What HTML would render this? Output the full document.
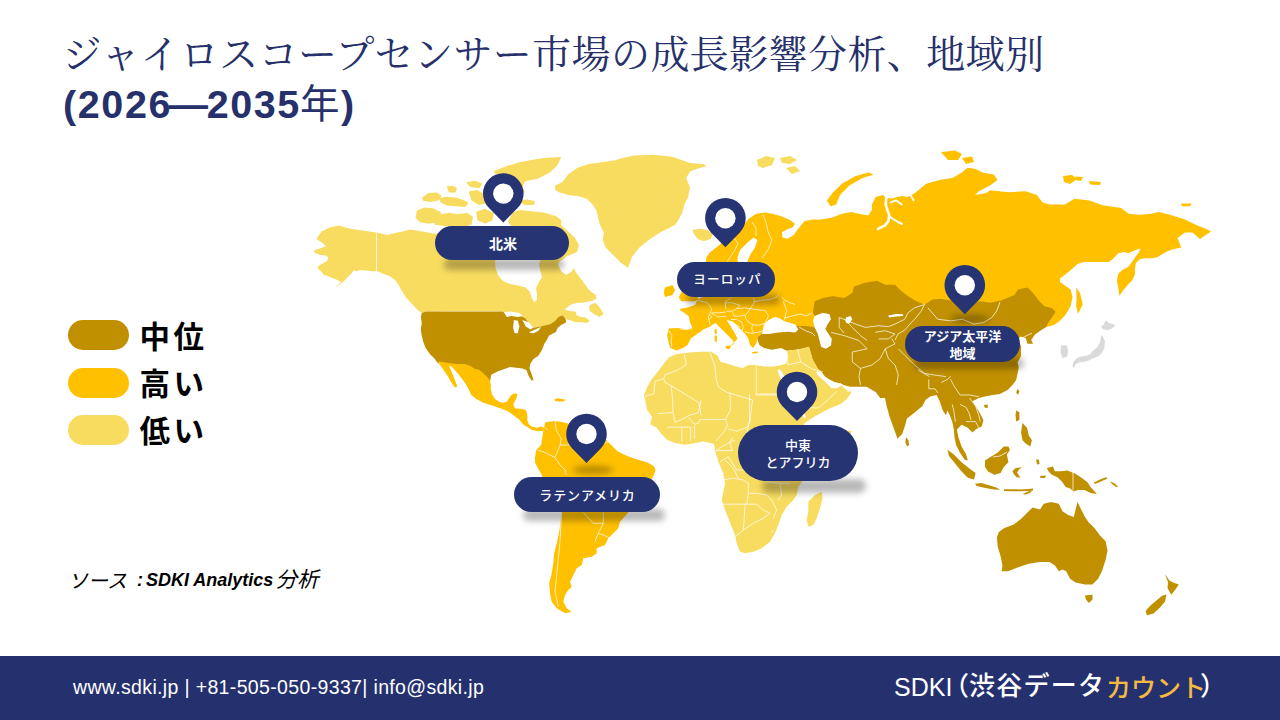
<!DOCTYPE html>
<html lang="ja">
<head>
<meta charset="utf-8">
<style>
*{margin:0;padding:0;box-sizing:border-box}
html,body{width:1280px;height:720px;overflow:hidden;background:#fff}
body{position:relative;font-family:"Liberation Sans","Noto Sans CJK JP",sans-serif}
.t1{position:absolute;left:62.5px;top:23px;font-family:"Noto Serif CJK JP","Noto Serif CJK SC",serif;font-size:39px;line-height:56px;color:#26306a;white-space:nowrap;letter-spacing:0.4px}
.t2{position:absolute;left:63px;top:78px;font-family:"Liberation Sans","Noto Sans CJK JP",sans-serif;font-weight:bold;font-size:39.5px;line-height:52px;color:#26306a;white-space:nowrap;letter-spacing:1.6px}
.t2 .n{font-weight:normal}
.lg{position:absolute;left:68px;width:61px;height:30px;border-radius:15px}
.lt{position:absolute;left:139.5px;font-family:"Noto Sans CJK JP",sans-serif;font-weight:bold;font-size:30.5px;line-height:30px;color:#000;letter-spacing:3.5px;white-space:nowrap}
.src{position:absolute;left:73px;top:567px;font-size:18px;line-height:26px;font-style:italic;color:#000;white-space:nowrap}
.src b{font-weight:bold}.src .s{position:absolute;top:0}.src .j{font-family:"Noto Sans CJK JP",sans-serif;font-size:20px;top:0px}
.ft{position:absolute;left:0;top:656px;width:1280px;height:64px;background:#25316f}
.ft1{position:absolute;left:73px;top:674px;font-family:"Liberation Sans",sans-serif;font-size:19.5px;line-height:26px;color:#fff;white-space:nowrap;letter-spacing:0.35px}
.ft2{position:absolute;left:894px;top:671px;font-family:"Liberation Sans","Noto Sans CJK JP",sans-serif;font-size:25px;line-height:32px;color:#fff;white-space:nowrap}
.ft2 .a{position:absolute;top:0}.ft2 .j{font-family:"Noto Sans CJK JP",sans-serif;font-size:26px;top:-3px;font-weight:500}.ft2 .o{color:#f4b942}
svg.map{position:absolute;left:0;top:0}
.pill{position:absolute;background:#263473;color:#fff;font-family:"Noto Sans CJK JP",sans-serif;font-weight:bold;font-size:13px;line-height:17px;display:flex;align-items:center;justify-content:center;text-align:center}
</style>
</head>
<body>
<div class="t1">ジャイロスコープセンサー市場の成長影響分析、地域別</div>
<div class="t2">(2026<span style="margin:0 -3px 0 -3.5px">—</span>2035<span class="n" style="margin-left:-1px">年</span>)</div>

<svg class="map" width="1280" height="720" viewBox="0 0 1280 720">
<defs><filter id="bl" x="-50%" y="-50%" width="200%" height="200%"><feGaussianBlur stdDeviation="3"/></filter></defs>
<g>
<path fill="#f8dc60" d="M321.9,231.2 L330.0,227.5 L338.8,225.6 L350.0,228.8 L362.5,230.6 L376.2,232.5 L387.5,235.0 L395.0,233.0 L403.8,231.2 L410.0,229.4 L416.2,230.6 L425.0,231.9 L435.0,233.8 L450.0,231.0 L470.0,229.0 L495.0,232.0 L520.0,236.0 L545.0,238.0 L560.0,240.0 L568.0,244.0 L570.0,252.0 L565.0,258.0 L560.0,261.0 L558.0,264.0 L561.0,271.0 L566.0,275.0 L571.0,272.0 L574.0,268.0 L575.8,272.2 L580.0,277.8 L584.2,283.3 L588.3,288.9 L591.1,291.7 L595.3,294.4 L596.7,298.6 L592.5,300.7 L588.3,301.4 L582.8,302.8 L577.2,302.8 L571.7,304.2 L567.5,306.9 L564.7,309.7 L570.3,311.1 L575.8,311.8 L576.5,315.3 L580.0,316.7 L585.6,317.4 L589.7,320.8 L586.9,322.9 L581.4,322.2 L575.8,322.2 L571.7,320.8 L567.5,319.4 L564.7,318.1 L565.5,318.4 L562.3,315.3 L558.4,316.9 L555.3,320.8 L550.6,323.9 L544.4,325.5 L538.1,327.0 L533.4,327.8 L530.3,324.7 L525.6,318.4 L519.4,315.3 L506.9,313.8 L502.2,311.4 L494.4,311.1 L456.9,311.1 L425.6,311.4 L421.7,313.0 L417.5,310.0 L412.0,304.0 L406.0,297.5 L401.2,290.0 L398.8,285.0 L395.0,280.0 L390.0,276.2 L385.0,274.4 L380.0,272.5 L376.2,271.2 L371.2,271.2 L366.2,270.6 L360.0,270.0 L356.2,271.2 L353.8,270.0 L351.2,273.8 L347.5,277.5 L343.8,281.2 L337.5,286.2 L329.4,290.0 L326.9,291.2 L335.0,287.5 L341.2,282.5 L337.5,280.0 L331.2,277.5 L326.2,275.6 L323.1,274.4 L321.9,271.9 L318.8,269.4 L317.5,266.9 L321.9,263.8 L326.9,261.2 L328.1,257.5 L326.2,255.6 L320.0,255.0 L315.0,253.1 L313.8,250.6 L318.8,248.8 L326.2,246.2 L321.9,242.5 L316.9,239.4 L317.5,236.9Z"/>
<path fill="#f8dc60" d="M416.9,210.4 L424.3,207.5 L433.2,208.2 L440.6,211.9 L442.0,217.8 L437.6,222.2 L428.8,223.7 L419.9,222.2 L415.5,217.8Z"/>
<path fill="#f8dc60" d="M433.1,217.1 L440.5,214.2 L449.4,212.7 L458.2,214.2 L467.1,212.7 L473.0,217.1 L471.5,224.5 L464.1,227.4 L453.8,226.7 L443.5,226.0 L434.6,224.5Z"/>
<path fill="#f8dc60" d="M422.4,197.5 L428.3,193.1 L437.1,192.4 L441.5,196.0 L438.6,200.5 L429.7,201.9 L422.4,200.5Z"/>
<path fill="#f8dc60" d="M439.1,198.2 L446.4,196.7 L455.3,197.5 L462.7,199.7 L468.6,202.6 L465.6,207.1 L455.3,206.3 L446.4,205.6 L440.6,202.6Z"/>
<path fill="#f8dc60" d="M446.7,186.5 L452.6,185.8 L457.0,188.0 L455.5,192.4 L448.9,192.4Z"/>
<path fill="#f8dc60" d="M466.2,182.2 L475.0,180.7 L482.4,183.6 L479.5,188.1 L470.6,187.3Z"/>
<path fill="#f8dc60" d="M468.6,191.6 L477.4,190.1 L484.8,194.6 L486.3,203.4 L478.9,204.9 L471.5,200.4Z"/>
<path fill="#f8dc60" d="M493.8,171.2 L506.2,166.2 L518.8,162.5 L531.2,160.0 L543.8,158.1 L560.0,156.9 L561.2,157.5 L557.5,165.0 L550.0,172.5 L537.5,178.8 L525.0,181.2 L522.5,187.5 L525.0,192.5 L520.0,191.2 L512.5,185.0 L506.2,178.8 L500.0,175.0 L495.0,173.8Z"/>
<path fill="#f8dc60" d="M520.0,200.0 L527.5,199.4 L535.0,201.2 L533.8,205.0 L525.0,205.0 L521.2,203.1Z"/>
<path fill="#f8dc60" d="M476.1,211.8 L485.0,208.8 L493.9,213.3 L492.4,220.6 L485.0,223.6 L477.6,220.6Z"/>
<path fill="#f8dc60" d="M512.5,212.5 L520.0,210.0 L531.2,211.2 L543.8,212.5 L556.2,216.2 L561.2,220.0 L561.2,225.0 L575.0,238.0 L579.0,245.0 L577.0,252.0 L568.0,256.0 L560.0,250.0 L550.0,243.0 L538.0,240.0 L525.0,236.0 L515.0,230.0 L508.0,222.0Z"/>
<path fill="#f8dc60" d="M555.0,185.6 L562.5,181.9 L568.1,174.4 L577.5,167.8 L588.8,164.1 L601.9,162.2 L615.0,160.3 L620.6,158.4 L633.8,155.6 L652.5,154.7 L671.2,156.6 L682.5,160.3 L690.0,163.1 L703.1,164.1 L706.9,165.9 L697.5,168.8 L690.0,171.6 L686.2,178.1 L690.0,187.5 L688.1,196.9 L684.4,204.4 L682.5,211.9 L678.8,219.4 L675.0,225.0 L667.5,228.8 L660.0,232.5 L648.8,240.0 L639.4,247.5 L631.9,256.9 L628.1,268.1 L620.6,262.5 L613.1,255.0 L605.6,247.5 L602.8,240.0 L603.8,232.5 L600.0,225.0 L598.1,217.5 L596.2,210.0 L592.5,204.4 L586.9,198.8 L577.5,195.9 L568.1,195.0 L558.8,192.2 L555.0,189.4Z"/>
<path fill="#f8dc60" d="M692.5,230.0 L700.0,228.8 L707.5,230.0 L712.5,233.8 L711.2,238.8 L703.8,241.2 L697.5,238.8 L693.8,233.8Z"/>
<path fill="#f8dc60" d="M591.1,304.2 L595.3,302.8 L599.4,306.9 L603.6,313.9 L599.4,316.7 L593.9,313.9 L589.7,311.1 L589.0,306.9Z"/>
<path fill="#c09000" d="M421.7,313.0 L425.6,311.4 L502.2,311.4 L506.9,313.8 L519.4,315.3 L525.6,318.4 L530.3,324.7 L533.4,327.8 L538.1,327.0 L544.4,325.5 L550.6,323.9 L555.3,320.8 L558.4,316.9 L562.3,315.3 L565.5,318.4 L566.2,322.3 L561.6,324.7 L557.7,327.8 L556.1,331.7 L552.2,334.0 L549.0,335.6 L546.7,340.3 L544.4,343.4 L542.8,348.1 L541.2,351.2 L538.1,355.9 L533.4,359.0 L530.3,363.8 L529.5,368.4 L531.9,374.7 L533.4,379.4 L531.9,380.9 L528.8,376.2 L526.4,370.0 L522.5,368.4 L516.2,367.7 L510.0,366.9 L503.8,369.2 L497.5,371.6 L491.2,374.7 L490.0,382.0 L487.7,379.5 L483.4,375.3 L479.2,371.8 L475.0,371.1 L470.8,368.2 L465.2,366.1 L458.1,365.9 L449.7,365.2 L438.4,363.3 L436.0,361.0 L435.0,359.0 L430.3,354.4 L425.6,348.1 L423.3,341.9 L421.7,335.6 L420.9,329.4 L421.7,323.1 L420.9,316.9Z"/>
<path fill="#ffc000" d="M438.4,361.3 L449.7,363.2 L458.1,363.9 L465.2,364.1 L470.8,366.3 L475.0,369.1 L479.2,369.8 L483.4,373.3 L487.7,377.5 L489.8,380.3 L490.8,384.5 L490.8,389.5 L492.2,394.7 L495.0,398.9 L499.2,401.7 L503.4,402.8 L507.1,401.4 L509.0,398.3 L510.9,395.5 L513.3,393.5 L517.5,393.8 L516.5,397.9 L514.4,402.1 L513.3,404.5 L515.1,408.4 L520.7,408.7 L525.9,410.1 L527.3,414.8 L527.3,420.0 L528.7,423.9 L531.5,426.4 L536.9,427.8 L541.4,426.4 L544.2,428.1 L543.2,430.9 L537.6,431.2 L531.5,429.8 L527.3,427.0 L522.8,424.2 L519.7,420.0 L514.1,415.8 L508.5,411.5 L503.1,409.3 L497.2,407.3 L490.5,405.1 L483.4,402.8 L476.4,398.9 L471.1,394.7 L469.1,390.2 L466.3,384.8 L462.3,379.2 L457.8,373.6 L453.9,369.1 L451.1,366.3 L449.0,365.5 L451.1,370.5 L453.9,377.5 L457.4,386.6 L455.0,387.6 L451.1,382.0 L446.9,374.7 L442.9,369.1 L439.1,363.7Z"/>
<path fill="#ffc000" d="M554.5,399.3 L558.0,398.3 L562.2,398.9 L565.7,399.7 L563.6,401.4 L558.7,401.4 L555.2,401.1Z"/>
<path fill="#ffc000" d="M544.2,428.1 L545.0,422.5 L550.0,421.5 L555.0,421.0 L562.0,422.0 L570.0,424.0 L580.0,428.0 L590.0,431.0 L600.0,435.0 L605.0,438.8 L611.2,445.0 L617.5,451.2 L625.0,455.0 L631.2,457.5 L638.8,460.0 L647.5,462.5 L653.8,466.2 L655.6,470.0 L653.8,475.0 L650.0,482.0 L645.0,490.0 L640.0,498.0 L634.0,505.0 L628.3,512.5 L620.0,521.7 L618.3,528.3 L613.3,533.3 L608.3,538.3 L605.0,545.0 L596.7,548.3 L596.7,553.3 L591.7,556.7 L583.3,558.3 L581.7,565.0 L576.7,568.3 L573.3,575.0 L570.0,581.7 L571.7,586.7 L568.3,590.0 L565.0,595.0 L563.3,601.7 L566.7,608.3 L571.7,611.7 L565.0,613.3 L556.7,608.3 L551.7,601.7 L550.0,593.3 L549.2,583.3 L551.7,573.3 L553.3,563.3 L554.2,553.3 L556.7,543.3 L559.2,531.7 L560.8,520.0 L561.7,512.5 L555.0,500.0 L548.0,490.0 L542.5,477.0 L541.2,473.8 L537.5,467.5 L535.0,462.5 L535.0,457.5 L536.2,450.0 L541.2,445.0 L543.8,427.5Z"/>
<path fill="#ffc000" d="M668.8,328.6 L667.2,335.6 L668.8,343.4 L670.3,348.1 L676.6,350.5 L682.8,348.1 L687.5,345.0 L690.6,338.8 L696.9,334.0 L701.6,331.0 L703.0,329.4 L709.4,327.0 L712.5,324.7 L715.6,323.0 L721.9,329.4 L728.0,335.6 L732.8,340.3 L734.4,343.4 L729.7,346.6 L733.0,343.5 L737.5,338.8 L734.4,332.5 L729.7,324.7 L726.6,320.0 L732.8,321.6 L739.0,327.8 L745.3,334.0 L748.4,338.8 L750.0,345.0 L753.0,348.0 L756.2,343.4 L757.8,338.8 L759.4,335.6 L762.5,332.5 L764.0,324.7 L768.8,320.0 L775.0,317.0 L779.7,318.4 L784.4,321.6 L790.6,323.0 L795.3,324.7 L798.4,329.4 L830.0,340.0 L900.0,360.0 L1000.0,345.0 L1046.2,326.9 L1053.8,325.0 L1059.4,321.2 L1065.0,315.6 L1070.6,306.2 L1072.5,296.9 L1070.6,289.4 L1065.0,285.6 L1060.0,282.0 L1060.0,278.6 L1069.7,270.9 L1077.5,264.0 L1084.3,262.1 L1094.0,262.1 L1101.8,262.1 L1108.6,262.1 L1112.5,259.2 L1118.4,253.3 L1124.2,251.9 L1128.1,253.3 L1132.0,251.4 L1136.8,249.5 L1140.7,248.5 L1138.8,252.4 L1135.9,256.3 L1132.0,262.1 L1128.1,267.0 L1122.3,269.9 L1118.4,273.8 L1116.9,280.6 L1118.4,288.4 L1119.3,296.1 L1123.2,290.3 L1128.1,284.5 L1132.0,280.6 L1134.9,274.7 L1134.9,268.9 L1135.9,263.1 L1139.8,259.2 L1144.6,258.2 L1152.4,258.2 L1157.3,257.2 L1162.1,254.3 L1167.0,251.4 L1171.9,249.5 L1176.7,248.5 L1181.2,247.5 L1177.5,238.0 L1185.0,232.5 L1192.5,232.5 L1200.0,239.0 L1203.8,236.2 L1211.2,231.6 L1205.6,228.8 L1196.2,225.0 L1185.0,219.4 L1170.0,214.7 L1158.8,211.9 L1151.2,213.8 L1140.0,214.7 L1128.8,213.8 L1121.2,208.1 L1102.5,205.3 L1089.4,200.6 L1074.4,198.8 L1065.0,204.4 L1050.0,204.4 L1042.5,202.5 L1036.9,195.0 L1025.6,191.2 L1008.8,192.2 L990.0,190.3 L986.2,193.1 L975.0,195.0 L978.8,191.2 L990.0,185.6 L997.5,180.0 L993.8,174.4 L982.5,172.5 L975.0,168.8 L967.5,167.8 L961.9,172.5 L952.5,178.1 L939.4,180.0 L926.2,183.8 L915.0,193.1 L907.5,196.9 L902.0,196.0 L897.0,197.0 L892.0,198.5 L888.0,198.0 L886.9,198.8 L883.1,195.0 L875.6,196.9 L871.9,204.4 L871.9,210.0 L868.1,215.6 L858.8,213.8 L851.2,211.9 L841.9,213.8 L832.5,217.5 L821.2,219.4 L811.9,219.4 L804.4,221.2 L796.9,230.6 L793.8,235.0 L787.5,238.8 L782.5,237.5 L782.0,232.0 L788.0,229.0 L792.5,227.5 L795.0,223.8 L790.0,220.0 L781.2,216.2 L772.5,213.8 L765.0,212.5 L756.2,213.8 L748.8,218.8 L742.5,226.2 L735.0,232.5 L725.0,240.0 L716.2,247.5 L710.0,252.5 L706.2,257.5 L706.0,265.0 L712.0,272.0 L716.0,282.0 L712.0,290.0 L706.0,296.0 L700.0,298.0 L697.0,301.0 L695.0,305.0 L687.5,307.5 L680.0,308.8 L680.0,310.0 L683.8,312.5 L688.8,316.2 L690.0,322.5 L692.5,327.5 L687.5,329.4 L677.5,328.1Z"/>
<path fill="#ffc000" d="M687.0,268.0 L691.0,272.0 L693.5,280.0 L695.5,288.0 L697.0,295.0 L698.8,299.4 L695.0,301.2 L687.5,301.2 L681.2,301.2 L678.8,297.5 L681.5,292.0 L683.0,285.0 L685.0,276.0Z"/>
<path fill="#ffc000" d="M665.0,287.5 L672.5,285.0 L675.0,290.0 L672.5,295.0 L665.0,296.9 L663.8,292.5Z"/>
<path fill="#ffc000" d="M714.5,329.0 L716.8,329.5 L716.6,334.0 L714.8,334.0Z"/>
<path fill="#ffc000" d="M714.6,335.5 L717.0,335.8 L716.8,341.8 L714.6,341.6Z"/>
<path fill="#ffc000" d="M725.5,346.0 L731.0,345.5 L730.0,349.0 L726.0,348.8Z"/>
<path fill="#ffc000" d="M752.0,352.0 L758.0,351.6 L757.5,353.2 L752.3,353.4Z"/>
<path fill="#ffc000" d="M826.9,200.6 L832.5,193.1 L841.9,183.8 L855.0,176.2 L868.1,172.5 L873.8,174.4 L862.5,178.1 L849.4,185.6 L840.0,195.0 L836.2,204.4 L830.6,206.2Z"/>
<path fill="#f8dc60" d="M757.0,160.0 L766.0,156.0 L775.0,158.0 L772.0,165.0 L763.0,168.0 L758.0,166.0Z"/>
<path fill="#f8dc60" d="M780.0,158.0 L790.0,156.0 L797.0,160.0 L790.0,164.0 L782.0,163.0Z"/>
<path fill="#f8dc60" d="M786.0,168.0 L795.0,166.0 L800.0,171.0 L792.0,174.0Z"/>
<path fill="#ffc000" d="M941.0,152.0 L955.0,150.5 L962.0,154.0 L958.0,160.0 L948.0,160.0Z"/>
<path fill="#ffc000" d="M962.0,158.0 L972.0,156.5 L974.0,162.0 L966.0,164.0Z"/>
<path fill="#ffc000" d="M1063.0,176.0 L1072.0,175.0 L1077.0,179.0 L1070.0,184.0 L1064.0,182.0Z"/>
<path fill="#ffc000" d="M1075.0,176.5 L1083.0,177.0 L1081.0,181.0 L1076.0,180.0Z"/>
<path fill="#ffc000" d="M1089.0,181.0 L1101.0,182.0 L1100.0,185.0 L1090.0,184.5Z"/>
<path fill="#ffc000" d="M1181.0,203.5 L1191.6,203.4 L1190.0,206.3 L1182.0,206.2Z"/>
<path fill="#ffc000" d="M1076.2,287.5 L1080.0,293.0 L1082.8,304.4 L1078.0,313.8 L1076.2,306.2 L1076.6,296.9Z"/>
<path fill="#c09000" d="M757.8,337.2 L762.0,333.0 L780.0,328.0 L798.0,326.0 L805.0,326.0 L814.0,327.0 L816.0,318.0 L813.0,312.7 L814.6,301.2 L822.8,297.9 L832.7,296.2 L844.1,297.9 L852.3,293.0 L854.0,286.4 L863.8,283.1 L877.0,280.7 L885.2,284.8 L895.0,284.8 L901.6,291.3 L908.1,296.2 L916.3,301.2 L924.5,304.5 L932.7,299.5 L941.0,298.7 L950.8,300.4 L960.6,302.8 L970.5,302.8 L980.3,301.2 L990.2,302.8 L1001.2,300.6 L1014.4,295.0 L1018.0,289.4 L1027.5,287.5 L1033.1,293.1 L1038.8,300.6 L1044.4,306.2 L1051.9,308.1 L1055.6,311.9 L1051.9,317.5 L1048.1,323.0 L1046.2,326.9 L1040.6,330.6 L1035.0,334.4 L1031.2,340.0 L1033.1,343.8 L1027.5,343.8 L1025.6,338.0 L1020.0,336.2 L1018.0,340.0 L1021.0,346.0 L1021.0,356.0 L1017.5,362.5 L1018.8,367.5 L1017.5,373.8 L1016.2,380.0 L1012.5,385.0 L1007.5,390.0 L1000.0,394.0 L992.8,395.0 L985.0,396.6 L978.8,398.0 L972.5,401.2 L975.6,406.0 L980.3,413.8 L983.4,420.0 L981.9,426.2 L975.6,429.4 L972.5,432.5 L967.8,427.8 L961.6,424.7 L956.9,429.4 L958.4,437.2 L961.6,446.6 L966.2,454.4 L967.8,460.6 L964.7,459.8 L960.0,452.8 L956.1,445.0 L954.5,437.2 L953.8,429.4 L952.2,421.6 L949.8,415.3 L947.5,410.6 L945.9,415.3 L942.8,410.6 L939.7,401.2 L936.6,395.0 L930.3,396.6 L925.6,399.7 L922.5,406.0 L913.1,413.8 L906.9,418.4 L905.3,424.7 L902.2,434.0 L897.5,438.8 L893.6,427.8 L889.7,416.9 L886.6,406.0 L885.0,398.0 L880.3,398.0 L875.6,391.9 L870.8,389.2 L866.7,386.7 L858.3,386.7 L850.0,386.7 L843.3,385.0 L840.0,383.3 L835.0,382.5 L830.0,380.0 L825.0,376.7 L821.7,372.5 L818.0,368.9 L812.5,359.2 L810.5,352.0 L808.9,346.7 L804.7,348.0 L797.8,349.4 L786.7,350.8 L781.2,348.0 L771.9,349.7 L764.0,348.0 L759.4,345.0 L757.8,340.3Z"/>
<path fill="#c09000" d="M906.1,437.2 L908.4,440.3 L909.2,445.0 L906.9,446.6 L905.3,441.9Z"/>
<path fill="#c09000" d="M1017.5,388.8 L1019.4,391.2 L1018.0,395.0 L1016.2,392.5Z"/>
<path fill="#c09000" d="M983.8,405.0 L987.5,404.4 L988.0,407.5 L985.0,408.0Z"/>
<path fill="#c09000" d="M947.5,449.7 L953.8,454.4 L961.6,462.2 L969.4,468.4 L975.6,473.1 L974.0,479.4 L967.8,477.8 L961.6,471.6 L955.3,463.8 L949.0,456.0Z"/>
<path fill="#c09000" d="M985.0,460.6 L989.7,457.5 L997.5,452.8 L1003.8,446.6 L1008.4,446.6 L1010.0,449.7 L1006.9,454.4 L1008.4,462.2 L1003.8,466.9 L1000.6,473.1 L994.4,474.7 L988.1,471.6 L985.0,466.9Z"/>
<path fill="#c09000" d="M1016.2,410.6 L1019.4,412.2 L1019.4,420.0 L1016.2,421.6 L1015.5,415.3Z"/>
<path fill="#c09000" d="M1022.5,423.0 L1027.0,427.8 L1028.8,435.6 L1031.9,440.3 L1030.3,446.6 L1025.6,443.4 L1022.5,440.3 L1021.0,432.5Z"/>
<path fill="#c09000" d="M975.0,483.8 L981.2,483.0 L989.0,485.3 L996.9,487.7 L1000.0,490.0 L992.2,489.2 L984.4,487.7 L976.6,486.0Z"/>
<path fill="#c09000" d="M1012.5,471.2 L1015.6,468.0 L1021.9,467.3 L1018.8,469.7 L1017.2,472.8 L1020.3,477.5 L1017.2,477.5 L1014.0,474.4Z"/>
<path fill="#c09000" d="M1046.9,468.0 L1053.1,466.6 L1054.7,471.2 L1061.0,471.2 L1067.2,470.5 L1075.0,473.6 L1081.2,477.5 L1087.5,482.2 L1090.6,486.9 L1096.9,493.9 L1090.6,493.1 L1084.4,490.0 L1078.0,490.0 L1073.4,491.6 L1070.3,488.4 L1065.6,486.9 L1062.5,482.2 L1057.8,477.5 L1051.6,474.4 L1048.4,471.2Z"/>
<path fill="#c09000" d="M996.9,537.5 L997.8,546.9 L1000.6,556.2 L1002.5,565.6 L1001.6,571.2 L1008.1,571.2 L1017.5,567.5 L1028.8,563.8 L1040.0,561.9 L1049.4,561.9 L1055.0,565.6 L1058.8,571.2 L1062.5,569.4 L1066.2,571.2 L1070.0,578.8 L1075.6,582.5 L1085.0,584.4 L1092.5,584.4 L1098.1,578.8 L1101.9,571.2 L1105.6,560.0 L1107.5,550.6 L1105.6,541.2 L1100.0,535.6 L1094.4,528.1 L1088.8,522.5 L1085.0,516.9 L1081.2,509.4 L1077.5,501.9 L1075.6,509.4 L1073.8,516.9 L1068.1,515.0 L1062.5,511.2 L1058.8,503.8 L1051.2,501.9 L1043.8,503.8 L1040.0,509.4 L1032.5,507.5 L1026.9,513.1 L1021.2,518.8 L1013.8,524.4 L1004.4,528.1 L998.8,531.9Z"/>
<path fill="#c09000" d="M1085.0,595.6 L1092.5,594.7 L1092.5,599.4 L1088.8,603.1 L1086.0,599.4Z"/>
<path fill="#c09000" d="M1164.7,574.0 L1169.4,580.6 L1173.1,582.5 L1178.8,584.4 L1175.0,590.0 L1171.2,594.7 L1167.5,588.1 L1168.0,582.0Z"/>
<path fill="#c09000" d="M1166.5,594.5 L1165.0,601.5 L1160.0,607.5 L1153.5,613.5 L1147.0,615.2 L1145.5,611.0 L1150.5,605.5 L1157.0,600.0 L1162.0,595.8Z"/>
<path fill="#f8dc60" d="M676.9,354.0 L689.4,352.5 L700.3,351.7 L711.2,351.7 L717.5,355.6 L720.6,361.9 L726.9,363.4 L736.2,366.6 L742.5,368.0 L748.8,365.0 L755.0,365.0 L764.4,366.6 L773.8,366.6 L781.6,365.0 L786.2,363.4 L787.8,356.0 L786.7,350.8 L797.8,349.4 L804.7,348.0 L808.9,346.7 L810.5,352.0 L812.5,359.2 L818.0,368.9 L821.7,372.5 L825.0,376.7 L830.0,380.0 L835.0,382.5 L840.0,383.3 L843.3,385.0 L848.0,387.0 L851.0,392.0 L850.8,393.3 L846.7,399.2 L841.7,403.3 L836.7,405.8 L830.0,408.3 L823.3,411.7 L817.5,415.0 L811.7,418.3 L806.7,421.7 L803.3,424.2 L812.0,428.0 L830.0,429.0 L852.0,431.0 L845.0,440.0 L830.0,455.0 L815.0,468.0 L805.0,478.0 L798.3,486.7 L796.7,495.0 L793.3,500.0 L786.7,506.7 L781.7,515.0 L778.3,525.0 L775.0,533.3 L770.0,541.7 L761.7,548.3 L753.3,551.7 L745.0,553.3 L740.0,551.7 L736.7,543.3 L735.0,535.0 L731.7,526.7 L728.3,518.3 L725.0,510.0 L721.7,500.0 L723.3,491.7 L725.0,483.3 L723.3,473.3 L718.3,461.7 L715.0,450.0 L714.0,444.0 L709.7,443.1 L703.4,441.6 L695.6,443.1 L684.7,444.7 L675.3,443.1 L667.5,440.0 L661.2,433.8 L656.6,427.5 L650.3,424.4 L651.9,416.6 L647.2,410.3 L645.6,402.5 L644.0,394.7 L647.2,386.9 L651.9,379.0 L658.1,371.2 L662.8,365.0 L669.0,357.2Z"/>
<path fill="#f8dc60" d="M808.3,501.7 L815.0,495.0 L821.7,491.7 L822.5,498.3 L820.0,508.3 L816.7,518.3 L813.3,525.0 L808.3,526.7 L806.7,520.0 L808.3,511.7Z"/>
<path fill="#dadada" d="M1105.6,320.6 L1108.9,322.8 L1115.6,325.3 L1111.7,328.7 L1107.2,330.2 L1102.8,329.1 L1101.3,326.7 L1103.6,324.4Z"/>
<path fill="#dadada" d="M1102.2,335.3 L1105.0,341.1 L1104.4,347.8 L1101.7,353.3 L1098.9,356.1 L1093.3,358.3 L1088.9,360.6 L1084.4,361.7 L1080.0,362.2 L1075.8,363.9 L1073.9,368.0 L1072.4,366.1 L1073.6,361.7 L1076.7,358.3 L1081.1,356.4 L1086.7,355.8 L1090.0,354.2 L1092.8,350.9 L1097.8,346.4 L1100.3,341.3 L1100.9,336.7Z"/>
<path fill="#dadada" d="M1061.1,345.6 L1066.7,345.3 L1068.4,351.1 L1066.9,356.7 L1062.4,358.0 L1060.6,352.2Z"/>
<path fill="#c09000" d="M1004.0,489.2 L1012.5,489.3 L1020.3,489.4 L1028.0,489.0 L1033.0,488.6 L1033.0,490.4 L1028.0,491.0 L1020.3,491.2 L1012.5,491.3 L1004.0,491.0Z"/>
<path fill="#c09000" d="M1022.5,494.0 L1028.0,491.5 L1032.0,490.3 L1031.0,492.2 L1026.0,494.6Z"/>
<path fill="#c09000" d="M1036.0,459.5 L1039.0,459.8 L1039.5,464.0 L1037.0,464.5Z"/>
<path fill="#c09000" d="M1094.0,482.5 L1100.0,479.5 L1106.5,477.0 L1107.0,478.8 L1101.0,481.5 L1095.0,484.0Z"/>
<path fill="#c09000" d="M1110.0,481.5 L1114.0,483.0 L1118.0,486.5 L1116.5,487.2 L1112.0,484.0Z"/>
<path fill="#c09000" d="M1040.0,476.0 L1046.0,475.5 L1045.0,478.0 L1040.5,478.0Z"/>
<path fill="#fff" d="M495.0,259.0 L541.0,259.0 L539.0,264.0 L540.0,270.0 L542.0,277.0 L539.0,282.0 L536.0,288.0 L537.0,294.0 L537.0,300.0 L534.0,302.0 L531.5,297.5 L530.0,292.0 L525.5,287.5 L518.0,285.5 L510.0,284.0 L503.0,281.0 L498.0,275.0 L495.5,268.0Z"/>
<path fill="#fff" d="M503.8,312.2 L510.0,311.4 L519.4,313.0 L522.5,316.1 L517.8,316.9 L511.6,316.1 L506.9,316.9Z"/>
<path fill="#fff" d="M513.9,320.0 L517.8,320.8 L519.4,326.2 L517.8,333.3 L514.7,333.3 L513.1,327.8Z"/>
<path fill="#fff" d="M522.5,320.0 L528.8,322.3 L533.4,327.8 L530.3,329.4 L525.6,326.2Z"/>
<path fill="#fff" d="M528.8,332.5 L535.0,329.4 L541.2,327.0 L538.1,330.9 L533.4,333.3Z"/>
<path fill="#fff" d="M779.0,369.0 L782.0,372.0 L786.5,381.0 L792.5,391.0 L798.5,401.5 L803.0,410.0 L806.0,417.5 L804.0,418.0 L800.0,412.0 L795.0,403.0 L789.5,393.5 L784.0,384.0 L779.5,376.0 L777.5,370.5Z"/>
<path fill="#fff" d="M816.7,371.0 L821.7,372.5 L825.0,376.7 L830.0,380.0 L835.0,382.5 L840.0,383.3 L843.3,385.0 L848.0,387.0 L850.5,391.5 L848.0,391.5 L846.7,390.0 L843.3,387.5 L841.7,385.5 L836.7,388.3 L831.7,388.3 L825.0,381.7 L816.7,374.2Z"/>
<path fill="#fff" d="M762.5,332.5 L764.0,324.7 L768.8,320.0 L775.0,317.0 L779.7,318.4 L784.4,321.6 L790.6,323.0 L795.3,324.7 L798.4,329.4 L795.3,332.5 L787.5,331.7 L778.0,332.5 L768.8,334.0 L762.0,334.0Z"/>
<path fill="#fff" d="M814.6,316.0 L822.8,312.7 L829.4,314.3 L831.0,319.2 L827.7,324.1 L825.3,329.0 L828.6,334.0 L831.8,338.9 L831.0,345.5 L826.1,348.8 L821.2,347.1 L819.5,340.5 L817.9,334.0 L814.6,327.4 L813.0,320.9Z"/>
<path fill="#fff" d="M845.8,317.6 L850.7,316.0 L852.3,319.2 L849.0,324.1 L845.8,322.5Z"/>
<path fill="#fff" d="M888.4,315.5 L896.0,314.0 L903.2,314.3 L903.0,316.0 L896.0,316.5 L889.0,317.6Z"/>
<path fill="#fff" d="M737.5,257.5 L740.0,250.0 L747.5,242.5 L753.8,237.5 L757.5,240.0 L755.0,247.5 L750.0,255.0 L747.5,261.2 L745.0,268.0 L738.0,268.0Z"/>
<path fill="none" stroke="#fff" stroke-width="0.9" stroke-opacity="0.8" stroke-linejoin="round" d="M376.5,232.5 L376.5,271.0 L384.0,275.0 L392.0,281.0 L399.0,288.0"/>
<path fill="none" stroke="#fff" stroke-width="0.9" stroke-opacity="0.8" stroke-linejoin="round" d="M684.4,354.4 L686.2,365.0 L677.5,370.0 L665.0,375.0 L663.8,378.8"/>
<path fill="none" stroke="#fff" stroke-width="0.9" stroke-opacity="0.8" stroke-linejoin="round" d="M663.8,378.8 L655.0,381.2 L653.8,393.8 L645.0,396.2"/>
<path fill="none" stroke="#fff" stroke-width="0.9" stroke-opacity="0.8" stroke-linejoin="round" d="M663.8,378.8 L665.0,382.5 L670.0,385.0 L671.2,386.2 L672.5,397.5 L673.0,412.6"/>
<path fill="none" stroke="#fff" stroke-width="0.9" stroke-opacity="0.8" stroke-linejoin="round" d="M657.5,413.6 L673.0,412.6 L675.0,422.4"/>
<path fill="none" stroke="#fff" stroke-width="0.9" stroke-opacity="0.8" stroke-linejoin="round" d="M670.0,385.0 L698.8,402.5 L701.2,415.0"/>
<path fill="none" stroke="#fff" stroke-width="0.9" stroke-opacity="0.8" stroke-linejoin="round" d="M710.0,352.5 L715.0,366.2 L716.2,380.0 L718.8,387.5 L727.5,392.5 L752.5,400.0 L750.0,420.0 L746.2,435.0"/>
<path fill="none" stroke="#fff" stroke-width="0.9" stroke-opacity="0.8" stroke-linejoin="round" d="M756.2,366.2 L756.2,395.0 L777.5,395.0"/>
<path fill="none" stroke="#fff" stroke-width="0.9" stroke-opacity="0.8" stroke-linejoin="round" d="M730.0,392.5 L730.5,409.7 L725.6,419.5"/>
<path fill="none" stroke="#fff" stroke-width="0.9" stroke-opacity="0.8" stroke-linejoin="round" d="M675.0,422.4 L681.8,419.5 L688.6,415.6 L698.4,412.6 L700.3,403.9 L701.2,400.0"/>
<path fill="none" stroke="#fff" stroke-width="0.9" stroke-opacity="0.8" stroke-linejoin="round" d="M688.6,417.5 L694.5,424.3 L698.4,423.3 L700.3,419.5 L708.1,419.5 L725.6,419.5 L727.5,425.3 L723.7,432.1 L715.9,440.9"/>
<path fill="none" stroke="#fff" stroke-width="0.9" stroke-opacity="0.8" stroke-linejoin="round" d="M667.2,427.2 L681.8,427.2 L681.8,441.8"/>
<path fill="none" stroke="#fff" stroke-width="0.9" stroke-opacity="0.8" stroke-linejoin="round" d="M681.8,427.2 L690.6,427.2 L690.6,440.9"/>
<path fill="none" stroke="#fff" stroke-width="0.9" stroke-opacity="0.8" stroke-linejoin="round" d="M694.5,425.3 L694.5,438.9"/>
<path fill="none" stroke="#fff" stroke-width="0.9" stroke-opacity="0.8" stroke-linejoin="round" d="M728.5,429.2 L737.3,431.1 L747.0,427.2 L750.9,419.5"/>
<path fill="none" stroke="#fff" stroke-width="0.9" stroke-opacity="0.8" stroke-linejoin="round" d="M715.9,450.6 L732.4,450.6 L729.5,441.8 L733.4,437.0"/>
<path fill="none" stroke="#fff" stroke-width="0.9" stroke-opacity="0.8" stroke-linejoin="round" d="M716.7,450.0 L721.7,446.7 L735.0,440.0"/>
<path fill="none" stroke="#fff" stroke-width="0.9" stroke-opacity="0.8" stroke-linejoin="round" d="M725.0,460.0 L733.3,468.3 L738.3,478.3"/>
<path fill="none" stroke="#fff" stroke-width="0.9" stroke-opacity="0.8" stroke-linejoin="round" d="M720.0,461.7 L728.3,456.7 L736.7,470.0 L746.7,470.0 L756.0,466.0 L766.0,462.0"/>
<path fill="none" stroke="#fff" stroke-width="0.9" stroke-opacity="0.8" stroke-linejoin="round" d="M721.7,480.0 L733.3,478.3 L743.3,480.0 L748.3,483.3 L748.3,493.3 L756.7,493.3 L766.7,495.0 L771.7,500.0 L776.7,510.0 L773.3,518.3"/>
<path fill="none" stroke="#fff" stroke-width="0.9" stroke-opacity="0.8" stroke-linejoin="round" d="M748.3,493.3 L746.7,504.2"/>
<path fill="none" stroke="#fff" stroke-width="0.9" stroke-opacity="0.8" stroke-linejoin="round" d="M721.7,504.2 L756.7,504.2 L763.3,510.0 L770.0,513.3"/>
<path fill="none" stroke="#fff" stroke-width="0.9" stroke-opacity="0.8" stroke-linejoin="round" d="M745.0,504.2 L744.2,518.3 L743.3,530.0 L735.0,536.7"/>
<path fill="none" stroke="#fff" stroke-width="0.9" stroke-opacity="0.8" stroke-linejoin="round" d="M743.3,530.0 L753.3,523.3 L763.3,518.3 L770.0,513.3"/>
<path fill="none" stroke="#fff" stroke-width="0.9" stroke-opacity="0.8" stroke-linejoin="round" d="M766.7,481.7 L780.0,483.3 L790.0,483.3"/>
<path fill="none" stroke="#fff" stroke-width="0.9" stroke-opacity="0.8" stroke-linejoin="round" d="M780.0,483.3 L781.7,495.0 L778.3,500.0"/>
<path fill="none" stroke="#fff" stroke-width="0.9" stroke-opacity="0.8" stroke-linejoin="round" d="M771.7,530.8 L774.0,532.0"/>
<path fill="none" stroke="#fff" stroke-width="0.9" stroke-opacity="0.8" stroke-linejoin="round" d="M749.5,394.0 L749.5,423.0"/>
<path fill="none" stroke="#fff" stroke-width="0.9" stroke-opacity="0.8" stroke-linejoin="round" d="M757.0,394.0 L776.7,394.0"/>
<path fill="none" stroke="#fff" stroke-width="0.9" stroke-opacity="0.8" stroke-linejoin="round" d="M760.0,440.0 L775.0,445.0 L790.0,448.0 L800.0,452.0"/>
<path fill="none" stroke="#fff" stroke-width="0.9" stroke-opacity="0.8" stroke-linejoin="round" d="M775.0,445.0 L780.0,465.0 L792.0,470.0"/>
<path fill="none" stroke="#fff" stroke-width="0.9" stroke-opacity="0.8" stroke-linejoin="round" d="M786.7,350.8 L788.0,364.7"/>
<path fill="none" stroke="#fff" stroke-width="0.9" stroke-opacity="0.8" stroke-linejoin="round" d="M797.8,349.4 L800.6,362.0 L811.7,368.9 L822.8,371.7"/>
<path fill="none" stroke="#fff" stroke-width="0.9" stroke-opacity="0.8" stroke-linejoin="round" d="M788.0,364.7 L800.6,362.0"/>
<path fill="none" stroke="#fff" stroke-width="0.9" stroke-opacity="0.8" stroke-linejoin="round" d="M804.7,407.8 L818.6,407.8 L828.3,399.4 L836.7,391.1"/>
<path fill="none" stroke="#fff" stroke-width="0.9" stroke-opacity="0.8" stroke-linejoin="round" d="M680.0,329.0 L686.0,329.5 L692.0,328.5"/>
<path fill="none" stroke="#fff" stroke-width="0.9" stroke-opacity="0.8" stroke-linejoin="round" d="M669.0,331.0 L672.0,335.0 L671.0,341.0 L672.0,347.0"/>
<path fill="none" stroke="#fff" stroke-width="0.9" stroke-opacity="0.8" stroke-linejoin="round" d="M763.0,215.0 L766.0,222.0 L768.0,232.0 L772.0,240.0 L768.0,250.0 L762.0,258.0"/>
<path fill="none" stroke="#fff" stroke-width="0.9" stroke-opacity="0.8" stroke-linejoin="round" d="M733.0,237.0 L738.0,243.0 L735.0,250.0 L731.0,256.0 L727.0,262.0"/>
<path fill="none" stroke="#fff" stroke-width="0.9" stroke-opacity="0.8" stroke-linejoin="round" d="M752.0,222.0 L756.0,228.0 L756.0,236.0"/>
<path fill="none" stroke="#fff" stroke-width="0.9" stroke-opacity="0.8" stroke-linejoin="round" d="M785.0,318.0 L792.0,316.0 L800.0,314.0 L806.0,316.0 L812.0,313.0"/>
<path fill="none" stroke="#fff" stroke-width="0.9" stroke-opacity="0.8" stroke-linejoin="round" d="M799.0,327.0 L806.0,331.0 L812.0,333.0 L815.0,336.0"/>
<path fill="none" stroke="#fff" stroke-width="0.9" stroke-opacity="0.8" stroke-linejoin="round" d="M839.2,317.6 L844.1,319.2 L855.6,324.1 L865.5,327.4 L878.6,325.8 L888.4,326.6 L895.0,324.1 L904.8,319.2 L908.1,312.7 L914.7,307.7 L924.5,304.5"/>
<path fill="none" stroke="#fff" stroke-width="0.9" stroke-opacity="0.8" stroke-linejoin="round" d="M839.2,317.6 L839.2,327.4 L844.0,333.0"/>
<path fill="none" stroke="#fff" stroke-width="0.9" stroke-opacity="0.8" stroke-linejoin="round" d="M924.5,304.5 L921.3,311.0 L914.7,319.2 L909.8,324.1 L904.8,330.0 L898.0,334.0 L895.0,340.0"/>
<path fill="none" stroke="#fff" stroke-width="0.9" stroke-opacity="0.8" stroke-linejoin="round" d="M927.8,307.7 L937.7,319.2 L950.8,320.9 L962.3,319.2 L973.8,324.1 L983.6,322.5 L991.8,317.6 L996.7,311.0 L1000.0,302.0"/>
<path fill="none" stroke="#fff" stroke-width="0.9" stroke-opacity="0.8" stroke-linejoin="round" d="M831.0,332.3 L844.1,335.6 L858.9,340.5 L867.1,348.8"/>
<path fill="none" stroke="#fff" stroke-width="0.9" stroke-opacity="0.8" stroke-linejoin="round" d="M844.1,319.2 L852.3,327.4 L860.5,335.6 L867.1,340.5"/>
<path fill="none" stroke="#fff" stroke-width="0.9" stroke-opacity="0.8" stroke-linejoin="round" d="M867.1,348.8 L852.3,352.0 L852.3,361.9 L860.5,368.4 L872.0,365.0 L880.2,358.6 L885.2,348.8 L895.0,343.8 L891.7,338.9"/>
<path fill="none" stroke="#fff" stroke-width="0.9" stroke-opacity="0.8" stroke-linejoin="round" d="M860.5,368.4 L858.9,376.6 L860.5,384.8"/>
<path fill="none" stroke="#fff" stroke-width="0.9" stroke-opacity="0.8" stroke-linejoin="round" d="M885.2,348.8 L888.4,358.6 L895.0,365.0 L898.3,375.0 L896.6,384.8"/>
<path fill="none" stroke="#fff" stroke-width="0.9" stroke-opacity="0.8" stroke-linejoin="round" d="M898.3,348.8 L904.8,355.3 L914.7,365.0 L924.5,373.4 L934.4,375.0 L945.9,376.6"/>
<path fill="none" stroke="#fff" stroke-width="0.9" stroke-opacity="0.8" stroke-linejoin="round" d="M918.0,370.0 L929.5,376.6"/>
<path fill="none" stroke="#fff" stroke-width="0.9" stroke-opacity="0.8" stroke-linejoin="round" d="M875.3,332.3 L885.2,330.7 L895.0,334.0 L888.4,338.9 L878.6,338.9"/>
<path fill="none" stroke="#fff" stroke-width="0.9" stroke-opacity="0.8" stroke-linejoin="round" d="M950.6,379.4 L953.8,385.6 L960.0,395.0 L969.4,395.0 L978.8,396.6"/>
<path fill="none" stroke="#fff" stroke-width="0.9" stroke-opacity="0.8" stroke-linejoin="round" d="M952.2,404.4 L953.8,410.6 L955.3,421.6"/>
<path fill="none" stroke="#fff" stroke-width="0.9" stroke-opacity="0.8" stroke-linejoin="round" d="M960.0,404.4 L966.2,407.5 L969.4,413.8 L971.0,420.0"/>
<path fill="none" stroke="#fff" stroke-width="0.9" stroke-opacity="0.8" stroke-linejoin="round" d="M969.4,398.0 L975.6,406.0 L978.8,415.3 L980.3,421.6"/>
<path fill="none" stroke="#fff" stroke-width="0.9" stroke-opacity="0.8" stroke-linejoin="round" d="M966.2,421.6 L975.6,421.6 L978.8,427.8"/>
<path fill="none" stroke="#fff" stroke-width="0.9" stroke-opacity="0.8" stroke-linejoin="round" d="M928.8,379.4 L928.8,388.8 L935.0,388.8 L938.0,393.0"/>
<path fill="none" stroke="#fff" stroke-width="0.9" stroke-opacity="0.8" stroke-linejoin="round" d="M941.2,382.5 L947.5,379.4 L950.6,376.2"/>
<path fill="none" stroke="#fff" stroke-width="0.9" stroke-opacity="0.8" stroke-linejoin="round" d="M1018.0,340.0 L1026.0,336.0 L1032.0,333.0"/>
<path fill="none" stroke="#fff" stroke-width="0.9" stroke-opacity="0.8" stroke-linejoin="round" d="M993.0,457.0 L1000.0,456.0 L1007.0,452.0"/>
<path fill="none" stroke="#fff" stroke-width="0.9" stroke-opacity="0.8" stroke-linejoin="round" d="M1073.0,470.0 L1073.0,491.0"/>
<path fill="none" stroke="#fff" stroke-width="0.9" stroke-opacity="0.8" stroke-linejoin="round" d="M555.0,421.2 L556.2,430.0 L561.2,438.8 L560.0,445.0"/>
<path fill="none" stroke="#fff" stroke-width="0.9" stroke-opacity="0.8" stroke-linejoin="round" d="M567.5,445.0 L577.5,443.8 L592.5,443.8 L605.0,442.5 L610.0,441.2"/>
<path fill="none" stroke="#fff" stroke-width="0.9" stroke-opacity="0.8" stroke-linejoin="round" d="M537.5,450.0 L545.0,452.5 L555.0,457.5 L560.0,445.0 L567.5,445.0"/>
<path fill="none" stroke="#fff" stroke-width="0.9" stroke-opacity="0.8" stroke-linejoin="round" d="M555.0,457.5 L560.0,465.0 L565.0,470.0 L566.2,475.0"/>
<path fill="none" stroke="#fff" stroke-width="0.9" stroke-opacity="0.8" stroke-linejoin="round" d="M561.7,512.5 L560.8,526.7 L560.0,541.7 L558.3,558.3 L556.7,575.0 L555.0,591.7 L558.3,606.7"/>
<path fill="none" stroke="#fff" stroke-width="0.9" stroke-opacity="0.8" stroke-linejoin="round" d="M583.3,512.5 L593.3,523.3 L603.3,523.3 L598.3,533.3 L595.0,541.7"/>
<path fill="none" stroke="#fff" stroke-width="0.9" stroke-opacity="0.8" stroke-linejoin="round" d="M603.3,512.5 L603.3,523.3"/>
<path fill="none" stroke="#fff" stroke-width="0.9" stroke-opacity="0.8" stroke-linejoin="round" d="M598.3,533.3 L603.3,535.0 L610.0,538.3"/>
<path fill="none" stroke="#fff" stroke-width="0.9" stroke-opacity="0.8" stroke-linejoin="round" d="M548.0,430.0 L545.0,428.0"/>
<path fill="none" stroke="#fff" stroke-width="0.9" stroke-opacity="0.8" stroke-linejoin="round" d="M542.0,422.0 L536.0,418.0 L530.0,414.0 L527.0,410.0"/>
<path fill="none" stroke="#fff" stroke-width="0.9" stroke-opacity="0.8" stroke-linejoin="round" d="M522.0,409.0 L525.0,402.0 L523.0,398.0"/>
<path fill="none" stroke="#fff" stroke-width="0.9" stroke-opacity="0.8" stroke-linejoin="round" d="M697.5,300.3 L707.5,302.8 L711.7,308.7 L710.0,313.7 L708.3,317.0 L709.2,321.2 L710.0,325.3"/>
<path fill="none" stroke="#fff" stroke-width="0.9" stroke-opacity="0.8" stroke-linejoin="round" d="M711.7,312.8 L720.0,312.8 L725.8,312.0"/>
<path fill="none" stroke="#fff" stroke-width="0.9" stroke-opacity="0.8" stroke-linejoin="round" d="M730.8,297.8 L725.0,302.0 L725.8,308.7"/>
<path fill="none" stroke="#fff" stroke-width="0.9" stroke-opacity="0.8" stroke-linejoin="round" d="M725.0,302.8 L732.5,302.8 L740.0,305.3 L736.7,308.7 L732.5,311.2 L726.7,311.2"/>
<path fill="none" stroke="#fff" stroke-width="0.9" stroke-opacity="0.8" stroke-linejoin="round" d="M753.3,297.8 L755.0,301.2 L752.5,305.3 L750.0,308.7"/>
<path fill="none" stroke="#fff" stroke-width="0.9" stroke-opacity="0.8" stroke-linejoin="round" d="M736.7,308.7 L745.0,307.8 L750.0,308.7 L748.3,312.0 L745.0,315.3 L738.3,316.2 L734.2,316.2 L732.5,312.0"/>
<path fill="none" stroke="#fff" stroke-width="0.9" stroke-opacity="0.8" stroke-linejoin="round" d="M711.7,313.7 L718.3,317.0 L725.0,316.2 L726.7,317.8"/>
<path fill="none" stroke="#fff" stroke-width="0.9" stroke-opacity="0.8" stroke-linejoin="round" d="M709.2,314.5 L711.7,317.0 L709.2,319.5"/>
<path fill="none" stroke="#fff" stroke-width="0.9" stroke-opacity="0.8" stroke-linejoin="round" d="M750.0,308.7 L761.7,310.3 L765.0,310.3 L768.3,315.3 L767.5,318.7 L764.2,323.7 L757.5,325.3 L752.5,324.5 L748.3,322.0 L745.8,318.7 L745.0,315.3"/>
<path fill="none" stroke="#fff" stroke-width="0.9" stroke-opacity="0.8" stroke-linejoin="round" d="M730.8,319.5 L736.7,319.5 L741.7,322.0 L743.3,327.8 L741.7,331.2"/>
<path fill="none" stroke="#fff" stroke-width="0.9" stroke-opacity="0.8" stroke-linejoin="round" d="M734.2,323.7 L740.0,327.0"/>
<path fill="none" stroke="#fff" stroke-width="0.9" stroke-opacity="0.8" stroke-linejoin="round" d="M752.5,324.5 L751.7,328.7 L753.3,332.8 L760.0,332.0 L764.2,329.5"/>
<path fill="none" stroke="#fff" stroke-width="0.9" stroke-opacity="0.8" stroke-linejoin="round" d="M745.0,332.0 L749.2,332.8 L753.3,333.7"/>
<path fill="none" stroke="#fff" stroke-width="0.9" stroke-opacity="0.8" stroke-linejoin="round" d="M745.0,335.3 L745.8,337.8"/>
<path fill="none" stroke="#fff" stroke-width="0.9" stroke-opacity="0.8" stroke-linejoin="round" d="M753.3,302.0 L761.7,300.3 L770.0,299.5 L775.0,297.8 L778.3,295.3"/>
<path fill="none" stroke="#fff" stroke-width="0.9" stroke-opacity="0.8" stroke-linejoin="round" d="M781.7,297.0 L785.0,300.3 L790.0,302.8 L795.0,304.5"/>
<path fill="none" stroke="#fff" stroke-width="0.9" stroke-opacity="0.8" stroke-linejoin="round" d="M783.3,301.2 L786.7,310.3 L785.0,317.0 L784.2,320.3"/>
<path fill="none" stroke="#fff" stroke-width="2.6" stroke-linecap="round" stroke-linejoin="round" d="M886.4,196.5 L885.7,204.4 L887.1,209.3 L889.2,214.9 L888.5,221.1 L885.0,225.3 L878.0,228.8"/>
<path fill="none" stroke="#fff" stroke-width="2.0" stroke-linecap="round" stroke-linejoin="round" d="M889.0,216.0 L893.0,219.0 L898.0,222.0 L902.0,224.0"/>
<path fill="none" stroke="#fff" stroke-width="1.8" stroke-linecap="round" stroke-linejoin="round" d="M890.6,202.4 L896.0,200.3 L901.7,204.4"/>
<path fill="none" stroke="#fff" stroke-width="1.8" stroke-linecap="round" stroke-linejoin="round" d="M910.0,194.0 L913.5,200.3"/>
</g>
<g filter="url(#bl)" fill="#000" fill-opacity="0.28">
<ellipse cx="593" cy="470" rx="20" ry="4.5"/>
<rect x="444" y="258" width="120" height="12" rx="6"/>
<rect x="686" y="294" width="94" height="11" rx="5.5"/>
<rect x="914" y="358" width="110" height="11" rx="5.5"/>
<rect x="762" y="479" width="104" height="14" rx="7"/>
<rect x="523" y="509" width="142" height="12" rx="6"/>
<ellipse cx="970" cy="319" rx="20" ry="4.5"/>
</g>
<path fill="#263473" d="M503.3,222.6 L488.8,207.8 A20.3,20.3 0 1 1 517.8,207.8 Z"/><circle cx="503.3" cy="193.6" r="10.2" fill="#fff"/>
<path fill="#263473" d="M725.4,247.2 L710.9,232.4 A20.3,20.3 0 1 1 739.9,232.4 Z"/><circle cx="725.4" cy="218.2" r="10.2" fill="#fff"/>
<path fill="#263473" d="M964.8,314.2 L950.3,299.4 A20.3,20.3 0 1 1 979.3,299.4 Z"/><circle cx="964.8" cy="285.2" r="10.2" fill="#fff"/>
<path fill="#263473" d="M797.0,421.0 L782.5,406.2 A20.3,20.3 0 1 1 811.5,406.2 Z"/><circle cx="797.0" cy="392.0" r="10.2" fill="#fff"/>
<path fill="#263473" d="M586.5,463.0 L572.0,448.2 A20.3,20.3 0 1 1 601.0,448.2 Z"/><circle cx="586.5" cy="434.0" r="10.2" fill="#fff"/>
</svg>

<div class="pill" style="left:435px;top:226px;width:134px;height:34px;border-radius:17px;font-size:14px;padding-left:2px">北米</div>
<div class="pill" style="left:677px;top:262px;width:98px;height:35px;border-radius:17.5px;font-size:12.5px;letter-spacing:1.2px;padding-left:3px;padding-bottom:3px;font-weight:500">ヨーロッパ</div>
<div class="pill" style="left:905px;top:326px;width:115px;height:36px;border-radius:18px">アジア太平洋<br>地域</div>
<div class="pill" style="left:738px;top:425px;width:120px;height:56px;border-radius:28px;font-weight:500">中東<br>とアフリカ</div>
<div class="pill" style="left:514px;top:477px;width:146px;height:35px;border-radius:17.5px;letter-spacing:0.85px;padding-left:1px;font-weight:500">ラテンアメリカ</div>

<div class="lg" style="top:320px;background:#c09000"></div>
<div class="lg" style="top:368px;background:#ffc000"></div>
<div class="lg" style="top:415px;background:#f8dc60"></div>
<div class="lt" style="top:319.5px">中位</div>
<div class="lt" style="top:366.5px">高い</div>
<div class="lt" style="top:413.5px">低い</div>

<div class="src"><span class="s j" style="left:-5px">ソース</span><span class="s" style="left:64px"><b>:</b></span><span class="s" style="left:73px"><b>SDKI Analytics</b></span><span class="s j" style="left:202.5px;font-size:21.5px;top:-2px">分析</span></div>

<div class="ft"></div>
<div class="ft1">www.sdki.jp | +81-505-050-9337| info@sdki.jp</div>
<div class="ft2"><span class="a" style="left:0">SDKI</span><span class="a j" style="left:49px">（</span><span class="a j" style="left:75px;letter-spacing:1.25px">渋谷データ</span><span class="a j o" style="left:212px;font-size:25px;top:-1px">カウント</span><span class="a j" style="left:306px">）</span></div>
</body>
</html>
